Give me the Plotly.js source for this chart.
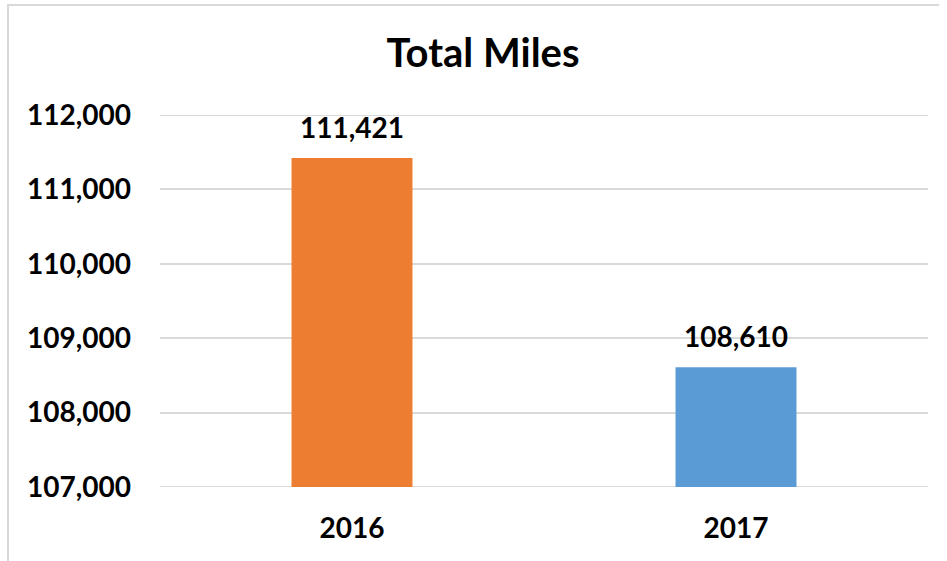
<!DOCTYPE html>
<html>
<head>
<meta charset="utf-8">
<script src="https://cdn.plot.ly/plotly-3.0.1.min.js"></script>
<style>
  html, body { margin: 0; padding: 0; background: #fff; }
  #wrap { position: relative; width: 947px; height: 561px; overflow: hidden; }
  #chart { position: absolute; left: 0; top: 0; width: 947px; height: 561px; }
  #frame { position: absolute; left: 7px; top: 4px; width: 930px; height: 600px;
           border-top: 2px solid #D9D9D9; border-left: 2px solid #D9D9D9; pointer-events: none; }
</style>
</head>
<body>
<div id="wrap">
  <div id="chart"></div>
  <div id="frame"></div>
</div>
<script>
const categories = ["2016", "2017"];
const values = [111421, 108610];
const barColors = ["#ED7D31", "#5B9BD5"];
const yTickValues = [107000, 108000, 109000, 110000, 111000, 112000];
const yTickLabels = ["107,000", "108,000", "109,000", "110,000", "111,000", "112,000"];
const chartTitle = "Total Miles";

const FONT = "Lato, 'Open Sans', sans-serif";
const GRID = "#D9D9D9";

const trace = {
  type: "bar",
  x: categories,
  y: values,
  marker: { color: barColors, line: { width: 0 } },
  hoverinfo: "none"
};

const annotations = categories.map((c, i) => ({
  x: i,
  y: values[i],
  xref: "x",
  yref: "y",
  text: "<b>" + values[i].toLocaleString("en-US") + "</b>",
  showarrow: false,
  yanchor: "bottom",
  xanchor: "center",
  yshift: 12,
  font: { family: FONT, size: 28, color: "#000" }
}));

// Plotly drops grid lines that sit exactly on the range ends; redraw those two.
const edgeTicks = [yTickValues[0], yTickValues[yTickValues.length - 1]];
const shapes = edgeTicks.map(v => ({
  type: "line",
  xref: "paper",
  yref: "y",
  x0: 0, x1: 1,
  y0: v, y1: v,
  layer: "below",
  line: { color: GRID, width: 2 }
}));

const layout = {
  width: 947,
  height: 561,
  paper_bgcolor: "rgba(0,0,0,0)",
  plot_bgcolor: "rgba(0,0,0,0)",
  margin: { l: 160, r: 19, t: 115, b: 74 },
  showlegend: false,
  bargap: 0.685,
  title: {
    text: "<b>" + chartTitle + "</b>",
    font: { family: FONT, size: 40, color: "#000" },
    x: 0.51,
    xanchor: "center",
    y: 0.905,
    yanchor: "middle"
  },
  xaxis: {
    type: "category",
    range: [-0.5, 1.5],
    showgrid: false,
    zeroline: false,
    showline: false,
    ticks: "",
    ticklabelstandoff: 22,
    tickfont: { family: FONT, size: 28, color: "#000", weight: "bold" }
  },
  yaxis: {
    range: [yTickValues[0], yTickValues[yTickValues.length - 1]],
    tickmode: "array",
    tickvals: yTickValues,
    ticktext: yTickLabels,
    showgrid: true,
    gridcolor: GRID,
    gridwidth: 2,
    zeroline: false,
    showline: false,
    ticks: "",
    ticklabelstandoff: 28,
    tickfont: { family: FONT, size: 28, color: "#000", weight: "bold" }
  },
  shapes: shapes,
  annotations: annotations
};

Plotly.newPlot("chart", [trace], layout, { staticPlot: true, displayModeBar: false });
</script>
</body>
</html>
